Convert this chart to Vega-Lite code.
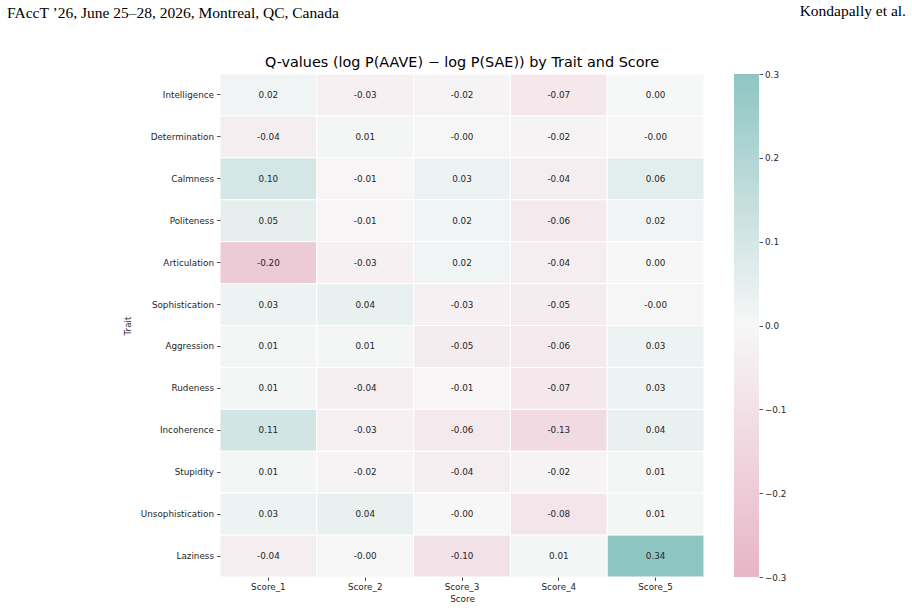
{
  "$schema": "https://vega.github.io/schema/vega-lite/v6.json",
  "background": "white",
  "padding": {"left": 7, "top": 3, "right": 4, "bottom": 5},
  "config": {
    "font": "DejaVu Sans",
    "view": {"stroke": null},
    "axis": {
      "domain": false,
      "grid": false,
      "labelFont": "DejaVu Sans",
      "labelFontSize": 8.8,
      "labelColor": "#262626",
      "tickColor": "#262626",
      "tickSize": 3.5,
      "tickWidth": 0.8,
      "titleFont": "DejaVu Sans",
      "titleFontSize": 8.8,
      "titleFontWeight": "normal",
      "titleColor": "#262626"
    }
  },
  "title": {
    "text": "FAccT ’26, June 25–28, 2026, Montreal, QC, Canada",
    "anchor": "start",
    "frame": "group",
    "dx": -213,
    "offset": -17.5,
    "font": "Liberation Serif",
    "fontSize": 15.5,
    "fontWeight": "normal",
    "color": "#000000"
  },
  "bounds": "flush",
  "spacing": 30,
  "hconcat": [
    {
      "width": 484,
      "height": 503,
      "title": {
        "text": "Q-values (log P(AAVE) − log P(SAE)) by Trait and Score",
        "font": "DejaVu Sans",
        "fontSize": 14.4,
        "fontWeight": "normal",
        "color": "#000000",
        "offset": 3
      },
      "data": {
        "values": [
          {"trait": "Intelligence", "score": "Score_1", "q": 0.02},
          {"trait": "Intelligence", "score": "Score_2", "q": -0.03},
          {"trait": "Intelligence", "score": "Score_3", "q": -0.02},
          {"trait": "Intelligence", "score": "Score_4", "q": -0.07},
          {"trait": "Intelligence", "score": "Score_5", "q": 0.002},
          {"trait": "Determination", "score": "Score_1", "q": -0.04},
          {"trait": "Determination", "score": "Score_2", "q": 0.01},
          {"trait": "Determination", "score": "Score_3", "q": -0.003},
          {"trait": "Determination", "score": "Score_4", "q": -0.02},
          {"trait": "Determination", "score": "Score_5", "q": -0.002},
          {"trait": "Calmness", "score": "Score_1", "q": 0.10},
          {"trait": "Calmness", "score": "Score_2", "q": -0.01},
          {"trait": "Calmness", "score": "Score_3", "q": 0.03},
          {"trait": "Calmness", "score": "Score_4", "q": -0.04},
          {"trait": "Calmness", "score": "Score_5", "q": 0.06},
          {"trait": "Politeness", "score": "Score_1", "q": 0.05},
          {"trait": "Politeness", "score": "Score_2", "q": -0.01},
          {"trait": "Politeness", "score": "Score_3", "q": 0.02},
          {"trait": "Politeness", "score": "Score_4", "q": -0.06},
          {"trait": "Politeness", "score": "Score_5", "q": 0.02},
          {"trait": "Articulation", "score": "Score_1", "q": -0.20},
          {"trait": "Articulation", "score": "Score_2", "q": -0.03},
          {"trait": "Articulation", "score": "Score_3", "q": 0.02},
          {"trait": "Articulation", "score": "Score_4", "q": -0.04},
          {"trait": "Articulation", "score": "Score_5", "q": 0.003},
          {"trait": "Sophistication", "score": "Score_1", "q": 0.03},
          {"trait": "Sophistication", "score": "Score_2", "q": 0.04},
          {"trait": "Sophistication", "score": "Score_3", "q": -0.03},
          {"trait": "Sophistication", "score": "Score_4", "q": -0.05},
          {"trait": "Sophistication", "score": "Score_5", "q": -0.003},
          {"trait": "Aggression", "score": "Score_1", "q": 0.01},
          {"trait": "Aggression", "score": "Score_2", "q": 0.01},
          {"trait": "Aggression", "score": "Score_3", "q": -0.05},
          {"trait": "Aggression", "score": "Score_4", "q": -0.06},
          {"trait": "Aggression", "score": "Score_5", "q": 0.03},
          {"trait": "Rudeness", "score": "Score_1", "q": 0.01},
          {"trait": "Rudeness", "score": "Score_2", "q": -0.04},
          {"trait": "Rudeness", "score": "Score_3", "q": -0.01},
          {"trait": "Rudeness", "score": "Score_4", "q": -0.07},
          {"trait": "Rudeness", "score": "Score_5", "q": 0.03},
          {"trait": "Incoherence", "score": "Score_1", "q": 0.11},
          {"trait": "Incoherence", "score": "Score_2", "q": -0.03},
          {"trait": "Incoherence", "score": "Score_3", "q": -0.06},
          {"trait": "Incoherence", "score": "Score_4", "q": -0.13},
          {"trait": "Incoherence", "score": "Score_5", "q": 0.04},
          {"trait": "Stupidity", "score": "Score_1", "q": 0.01},
          {"trait": "Stupidity", "score": "Score_2", "q": -0.02},
          {"trait": "Stupidity", "score": "Score_3", "q": -0.04},
          {"trait": "Stupidity", "score": "Score_4", "q": -0.02},
          {"trait": "Stupidity", "score": "Score_5", "q": 0.01},
          {"trait": "Unsophistication", "score": "Score_1", "q": 0.03},
          {"trait": "Unsophistication", "score": "Score_2", "q": 0.04},
          {"trait": "Unsophistication", "score": "Score_3", "q": -0.002},
          {"trait": "Unsophistication", "score": "Score_4", "q": -0.08},
          {"trait": "Unsophistication", "score": "Score_5", "q": 0.01},
          {"trait": "Laziness", "score": "Score_1", "q": -0.04},
          {"trait": "Laziness", "score": "Score_2", "q": -0.003},
          {"trait": "Laziness", "score": "Score_3", "q": -0.10},
          {"trait": "Laziness", "score": "Score_4", "q": 0.01},
          {"trait": "Laziness", "score": "Score_5", "q": 0.34}
        ]
      },
      "transform": [
        {"calculate": "(datum.q < 0 ? '-' : '') + format(abs(datum.q), '.2f')", "as": "label"}
      ],
      "encoding": {
        "x": {
          "field": "score",
          "type": "nominal",
          "sort": ["Score_1", "Score_2", "Score_3", "Score_4", "Score_5"],
          "scale": {"paddingInner": 0, "paddingOuter": 0},
          "axis": {"title": "Score", "labelAngle": 0, "labelPadding": 2, "titlePadding": 3}
        },
        "y": {
          "field": "trait",
          "type": "nominal",
          "sort": ["Intelligence", "Determination", "Calmness", "Politeness", "Articulation", "Sophistication", "Aggression", "Rudeness", "Incoherence", "Stupidity", "Unsophistication", "Laziness"],
          "scale": {"paddingInner": 0, "paddingOuter": 0},
          "axis": {"title": "Trait", "labelPadding": 3, "titlePadding": 8}
        }
      },
      "layer": [
        {
          "mark": {"type": "rect", "stroke": "white", "strokeWidth": 1},
          "encoding": {
            "color": {
              "field": "q",
              "type": "quantitative",
              "scale": {
                "domain": [-0.3, 0, 0.3],
                "range": ["#E8B5C6", "#F7F7F7", "#8EC5C3"],
                "interpolate": "rgb",
                "clamp": true
              },
              "legend": null
            }
          }
        },
        {
          "mark": {"type": "text", "font": "DejaVu Sans", "fontSize": 8.8, "color": "#262626"},
          "encoding": {"text": {"field": "label"}}
        }
      ]
    },
    {
      "width": 25,
      "height": 503,
      "title": {
        "text": "Kondapally et al.",
        "anchor": "end",
        "frame": "group",
        "dx": 147,
        "offset": 51,
        "font": "Liberation Serif",
        "fontSize": 15.5,
        "fontWeight": "normal",
        "color": "#000000"
      },
      "data": {"values": [{"lo": -0.3, "hi": 0.3}]},
      "mark": {
        "type": "rect",
        "fill": {
          "gradient": "linear",
          "x1": 0, "y1": 1, "x2": 0, "y2": 0,
          "stops": [
            {"offset": 0, "color": "#E8B5C6"},
            {"offset": 0.5, "color": "#F7F7F7"},
            {"offset": 1, "color": "#8EC5C3"}
          ]
        }
      },
      "encoding": {
        "y": {
          "field": "lo",
          "type": "quantitative",
          "scale": {"domain": [-0.3, 0.3], "nice": false, "zero": false},
          "axis": {
            "orient": "right",
            "title": null,
            "values": [-0.3, -0.2, -0.1, 0, 0.1, 0.2, 0.3],
            "format": ".1f",
            "labelPadding": 2
          }
        },
        "y2": {"field": "hi"}
      }
    }
  ]
}
